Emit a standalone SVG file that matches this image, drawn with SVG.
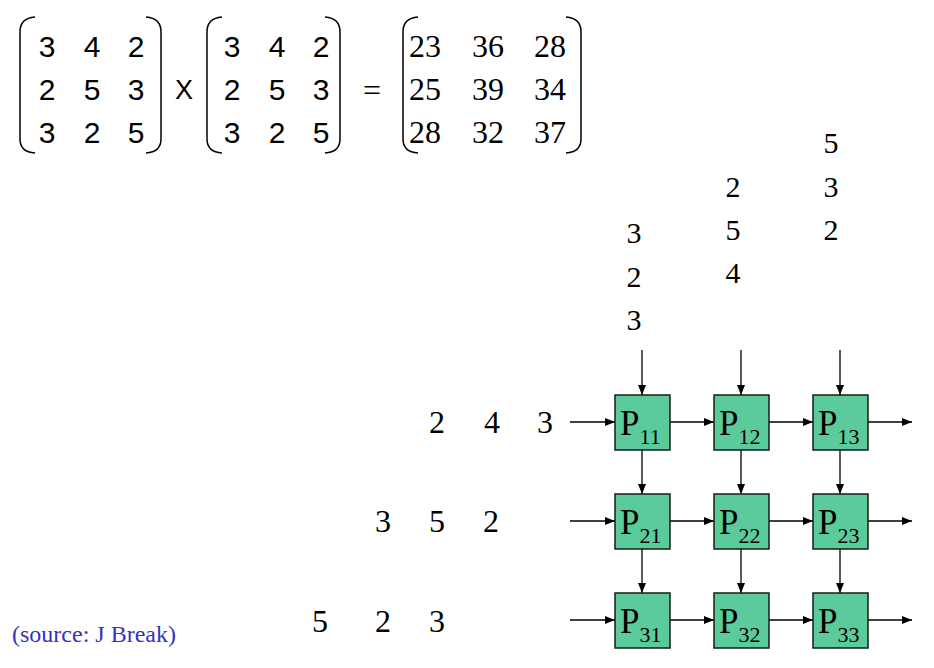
<svg xmlns="http://www.w3.org/2000/svg" width="934" height="668" viewBox="0 0 934 668">
<style>
.bk{fill:none;stroke:#000;stroke-width:1.5}
.ms{font-family:"Liberation Sans",Arial,sans-serif;font-size:30px;fill:#000;text-anchor:middle}
.mr{font-family:"Liberation Serif","Times New Roman",serif;font-size:32px;fill:#000;text-anchor:middle}
.n{font-family:"Liberation Serif","Times New Roman",serif;font-size:30px;fill:#000;text-anchor:middle}
.r{font-size:32px}
.box{fill:#5ccb9c;stroke:#1a1a1a;stroke-width:1.5}
.pl{font-family:"Liberation Serif","Times New Roman",serif;font-size:35px;fill:#000}
.sub{font-size:22px}
.c{stroke:#000;stroke-width:1.3;fill:none;marker-end:url(#ah)}
.src{font-family:"Liberation Serif","Times New Roman",serif;font-size:24px;fill:#3333bb}
</style>
<defs>
<marker id="ah" markerWidth="10" markerHeight="8" refX="10" refY="4" orient="auto" markerUnits="userSpaceOnUse">
<path d="M0,0 L10,4 L0,8 Z" fill="#000"/>
</marker>
</defs>
<g id="matrixA">
<path class="bk" d="M35,17 Q20,18 20,32 L20,139 Q20,152 35,153"/>
<path class="bk" d="M146,17 Q161,18 161,32 L161,139 Q161,152 146,153"/>
<text class="ms" x="47" y="57">3</text><text class="ms" x="92" y="57">4</text><text class="ms" x="136" y="57">2</text>
<text class="ms" x="47" y="100">2</text><text class="ms" x="92" y="100">5</text><text class="ms" x="136" y="100">3</text>
<text class="ms" x="47" y="143">3</text><text class="ms" x="92" y="143">2</text><text class="ms" x="136" y="143">5</text>
</g>
<text x="184" y="99" style="font-family:'Liberation Sans',Arial,sans-serif;font-size:27px;text-anchor:middle">X</text>
<g id="matrixB">
<path class="bk" d="M222,17 Q207,18 207,32 L207,139 Q207,152 222,153"/>
<path class="bk" d="M325,17 Q340,18 340,32 L340,139 Q340,152 325,153"/>
<text class="ms" x="232" y="57">3</text><text class="ms" x="277" y="57">4</text><text class="ms" x="321" y="57">2</text>
<text class="ms" x="232" y="100">2</text><text class="ms" x="277" y="100">5</text><text class="ms" x="321" y="100">3</text>
<text class="ms" x="232" y="143">3</text><text class="ms" x="277" y="143">2</text><text class="ms" x="321" y="143">5</text>
</g>
<text x="372" y="101" class="mr">=</text>
<g id="matrixC">
<path class="bk" d="M418,17 Q403,18 403,32 L403,139 Q403,152 418,153"/>
<path class="bk" d="M566,17 Q581,18 581,32 L581,139 Q581,152 566,153"/>
<text class="mr" x="425" y="57">23</text><text class="mr" x="488" y="57">36</text><text class="mr" x="550" y="57">28</text>
<text class="mr" x="425" y="100">25</text><text class="mr" x="488" y="100">39</text><text class="mr" x="550" y="100">34</text>
<text class="mr" x="425" y="143">28</text><text class="mr" x="488" y="143">32</text><text class="mr" x="550" y="143">37</text>
</g>
<g id="colInputs">
<text class="n" x="634" y="243">3</text><text class="n" x="634" y="287">2</text><text class="n" x="634" y="330">3</text>
<text class="n" x="733" y="197">2</text><text class="n" x="733" y="240">5</text><text class="n" x="733" y="283">4</text>
<text class="n" x="831" y="153">5</text><text class="n" x="831" y="197">3</text><text class="n" x="831" y="240">2</text>
</g>
<g id="rowInputs">
<text class="n r" x="437" y="433">2</text><text class="n r" x="492" y="433">4</text><text class="n r" x="545" y="433">3</text>
<text class="n r" x="383" y="532">3</text><text class="n r" x="437" y="532">5</text><text class="n r" x="491" y="532">2</text>
<text class="n r" x="320" y="632">5</text><text class="n r" x="383" y="632">2</text><text class="n r" x="437" y="632">3</text>
</g>
<g id="connectors">
<line class="c" x1="642" y1="350" x2="642" y2="395"/>
<line class="c" x1="741" y1="350" x2="741" y2="395"/>
<line class="c" x1="840" y1="350" x2="840" y2="395"/>
<line class="c" x1="642" y1="450" x2="642" y2="494"/>
<line class="c" x1="741" y1="450" x2="741" y2="494"/>
<line class="c" x1="840" y1="450" x2="840" y2="494"/>
<line class="c" x1="642" y1="549" x2="642" y2="593"/>
<line class="c" x1="741" y1="549" x2="741" y2="593"/>
<line class="c" x1="840" y1="549" x2="840" y2="593"/>
<line class="c" x1="570" y1="422" x2="615" y2="422"/>
<line class="c" x1="670" y1="422" x2="714" y2="422"/>
<line class="c" x1="769" y1="422" x2="813" y2="422"/>
<line class="c" x1="868" y1="422" x2="912" y2="422"/>
<line class="c" x1="570" y1="521" x2="615" y2="521"/>
<line class="c" x1="670" y1="521" x2="714" y2="521"/>
<line class="c" x1="769" y1="521" x2="813" y2="521"/>
<line class="c" x1="868" y1="521" x2="912" y2="521"/>
<line class="c" x1="570" y1="620" x2="615" y2="620"/>
<line class="c" x1="670" y1="620" x2="714" y2="620"/>
<line class="c" x1="769" y1="620" x2="813" y2="620"/>
<line class="c" x1="868" y1="620" x2="912" y2="620"/>
</g>
<g id="P11"><rect class="box" x="615" y="395" width="55" height="55"/><text class="pl" x="620" y="435">P<tspan class="sub" dy="9">11</tspan></text></g>
<g id="P12"><rect class="box" x="714" y="395" width="55" height="55"/><text class="pl" x="719" y="435">P<tspan class="sub" dy="9">12</tspan></text></g>
<g id="P13"><rect class="box" x="813" y="395" width="55" height="55"/><text class="pl" x="818" y="435">P<tspan class="sub" dy="9">13</tspan></text></g>
<g id="P21"><rect class="box" x="615" y="494" width="55" height="55"/><text class="pl" x="620" y="534">P<tspan class="sub" dy="9">21</tspan></text></g>
<g id="P22"><rect class="box" x="714" y="494" width="55" height="55"/><text class="pl" x="719" y="534">P<tspan class="sub" dy="9">22</tspan></text></g>
<g id="P23"><rect class="box" x="813" y="494" width="55" height="55"/><text class="pl" x="818" y="534">P<tspan class="sub" dy="9">23</tspan></text></g>
<g id="P31"><rect class="box" x="615" y="593" width="55" height="55"/><text class="pl" x="620" y="633">P<tspan class="sub" dy="9">31</tspan></text></g>
<g id="P32"><rect class="box" x="714" y="593" width="55" height="55"/><text class="pl" x="719" y="633">P<tspan class="sub" dy="9">32</tspan></text></g>
<g id="P33"><rect class="box" x="813" y="593" width="55" height="55"/><text class="pl" x="818" y="633">P<tspan class="sub" dy="9">33</tspan></text></g>
<text class="src" x="12" y="642">(source: J Break)</text>
</svg>
